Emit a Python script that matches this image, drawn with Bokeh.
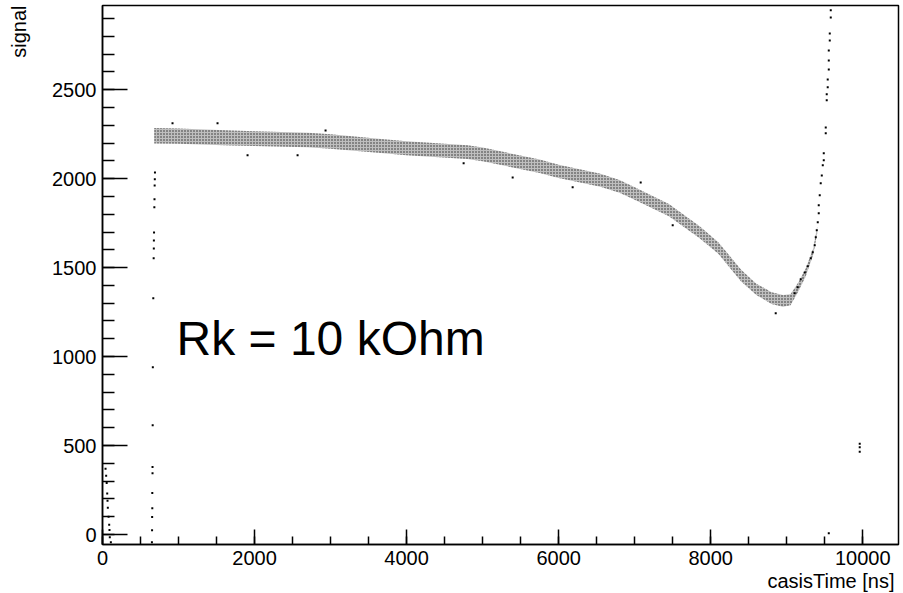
from bokeh.plotting import figure
from bokeh.models import Range1d, SingleIntervalTicker, Label, Title
from bokeh.embed import file_html
from bokeh.resources import INLINE

# ---- data ----
# dense band of points (lower / upper envelope), casisTime [ns] vs signal
band_x  = [680, 1000, 1700, 2000, 2700, 3000, 3700, 4000, 4800, 5000, 5750, 6000,
           6550, 6800, 7000, 7450, 7850, 8100, 8400, 8600, 8800, 8950, 9050, 9150,
           9250, 9350, 9400]
band_lo = [2198, 2196, 2186, 2183, 2176, 2168, 2142, 2131, 2110, 2098, 2032, 2004,
           1955, 1921, 1882, 1788, 1667, 1578, 1422, 1346, 1296, 1280, 1288, 1365,
           1452, 1575, 1690]
band_hi = [2285, 2282, 2270, 2266, 2258, 2250, 2222, 2210, 2188, 2175, 2107, 2078,
           2028, 1993, 1952, 1857, 1734, 1643, 1488, 1410, 1362, 1346, 1350, 1415,
           1495, 1610, 1730]

# steep rise at the end
rise_x = [9579, 9579, 9566, 9566, 9553, 9553, 9553, 9539, 9539, 9526, 9526, 9513,
          9513, 9487, 9487, 9474, 9461, 9447, 9434, 9421, 9421, 9408, 9395, 9382,
          9368, 9342, 9316, 9276, 9237, 9184, 9145, 9105]
rise_y = [2946, 2906, 2816, 2777, 2720, 2664, 2613, 2557, 2513, 2474, 2440, 2288,
          2255, 2142, 2103, 2075, 2018, 1974, 1906, 1850, 1806, 1755, 1710, 1671,
          1626, 1586, 1552, 1507, 1473, 1434, 1389, 1356]

# column of points near t = 0
col0_x = [40, 48, 55, 62, 66, 70, 80, 88, 92, 96, 110]
col0_y = [370, 330, 290, 230, 190, 150, 100, 55, 25, -15, -43]

# column of points near t = 660 ns
col1_x = [690, 688, 686, 684, 682, 678, 676, 675, 673, 668, 662, 660, 658, 658,
          655, 655, 653, 652, 650]
col1_y = [2035, 1996, 1962, 1884, 1839, 1698, 1653, 1608, 1552, 1328, 940, 614,
          379, 345, 233, 148, 98, 24, -43]

# isolated points
iso_x = [9960, 9960, 9960, 9553, 1513, 2566, 1908, 921, 5395, 6184, 7079, 7500,
         8855, 2934, 4750]
iso_y = [510, 490, 465, 7, 2311, 2131, 2131, 2311, 2007, 1951, 1979, 1738,
         1243, 2271, 2086]

x_ticks_major = 2000
y_ticks_major = 500
annotation = "Rk = 10 kOhm"
x_title = "casisTime [ns]"
y_title = "signal"

FONT = "Liberation Sans"

p = figure(width=903, height=593, output_backend="svg", toolbar_location=None,
           x_range=Range1d(0, 10470), y_range=Range1d(-56, 2973),
           min_border_left=102, min_border_right=5, min_border_top=5,
           min_border_bottom=49, background_fill_color="white",
           border_fill_color="white")
p.grid.visible = False
p.outline_line_color = "black"
p.outline_line_width = 1.5

p.xaxis.ticker = SingleIntervalTicker(interval=x_ticks_major, num_minor_ticks=4)
p.yaxis.ticker = SingleIntervalTicker(interval=y_ticks_major, num_minor_ticks=5)
for ax in (p.xaxis, p.yaxis):
    ax.axis_line_color = "black"
    ax.axis_line_width = 1.5
    ax.major_tick_line_color = "black"
    ax.minor_tick_line_color = "black"
    ax.major_tick_line_width = 1.5
    ax.minor_tick_line_width = 1.5
    ax.major_tick_out = 0
    ax.minor_tick_out = 0
    ax.major_label_text_font = FONT
    ax.major_label_text_font_size = "20px"
    ax.major_label_text_color = "black"
p.yaxis.major_label_standoff = 6
p.xaxis.major_label_standoff = 6
p.yaxis.major_tick_in = 25
p.yaxis.minor_tick_in = 12
p.xaxis.major_tick_in = 15
p.xaxis.minor_tick_in = 8
# blank axis label: only widens the left panel so that the title sits further left
p.yaxis.axis_label = " "
p.yaxis.axis_label_text_font_size = "10px"
p.yaxis.axis_label_standoff = 6

# dense band
p.varea(x=band_x, y1=band_lo, y2=band_hi, fill_color="#b4b4b4", fill_alpha=0.85,
        hatch_pattern="dot", hatch_color="#111111", hatch_scale=3, hatch_alpha=0.85)

# individual points
for xs, ys in ((rise_x, rise_y), (col0_x, col0_y), (col1_x, col1_y), (iso_x, iso_y)):
    p.scatter(x=xs, y=ys, marker="square", size=2, fill_color="black",
              line_color=None)

p.add_layout(Label(x=974, y=1103, text=annotation, text_font=FONT,
                   text_font_size="48px", text_color="black",
                   text_baseline="alphabetic", text_align="left"))

p.add_layout(Title(text=x_title, align="right", text_font=FONT,
                   text_font_size="20px", text_font_style="normal",
                   text_color="black", standoff=0, offset=4), "below")
p.add_layout(Title(text=y_title, align="right", text_font=FONT,
                   text_font_size="20px", text_font_style="normal",
                   text_color="black", standoff=0), "left")

open("out.html", "w").write(file_html(p, INLINE))
